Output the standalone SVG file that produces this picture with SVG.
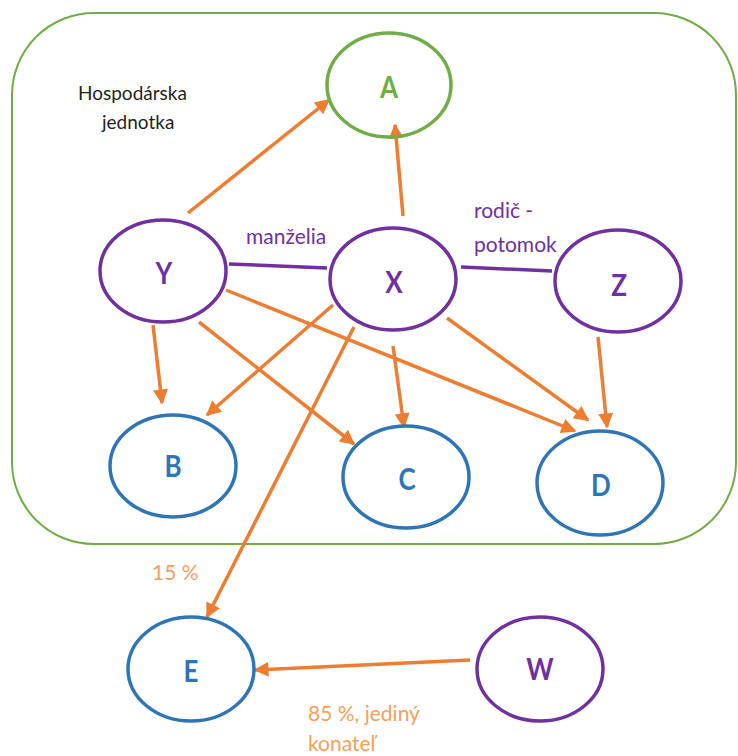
<svg xmlns="http://www.w3.org/2000/svg" width="738" height="756" viewBox="0 0 738 756">
<style>
.node{fill:none;stroke-width:3.5}
.purple{stroke:#7030A0}
.blue{stroke:#2E75B6}
.green{stroke:#70AD47}
.lbl{font-family:Lato,"Open Sans","Liberation Sans",sans-serif;font-weight:bold;font-size:26px;text-anchor:middle}
.txt{font-family:Lato,"Open Sans","Liberation Sans",sans-serif;font-size:21px}
.title{font-family:Lato,"Open Sans","Liberation Sans",sans-serif;font-size:19px;fill:#1f1f1f}
.arr{stroke:#ED7D31;stroke-width:3.5;fill:none;marker-end:url(#ah)}
.rel{stroke:#7030A0;stroke-width:3.5;fill:none}
</style>
<defs>
<marker id="ah" viewBox="0 0 10 10" refX="9" refY="5" markerUnits="userSpaceOnUse" markerWidth="17" markerHeight="15" orient="auto">
<path d="M0,0 L10,5 L0,10 z" fill="#ED7D31"/>
</marker>
</defs>
<rect id="container" x="12" y="13" width="724" height="531" rx="82" ry="82" fill="none" stroke="#70AD47" stroke-width="2"/>
<g id="container-label">
<text class="title" x="78" y="100">Hospodárska</text>
<text class="title" x="102" y="129">jednotka</text>
</g>
<g id="connectors">
<line class="arr" x1="188" y1="213" x2="329" y2="100"/>
<line class="arr" x1="403" y1="216" x2="395" y2="125"/>
<line class="rel" x1="229" y1="264" x2="327" y2="268"/>
<line class="rel" x1="461" y1="267" x2="552" y2="271"/>
<line class="arr" x1="153" y1="325" x2="162" y2="403"/>
<line class="arr" x1="333" y1="305" x2="207" y2="415"/>
<line class="arr" x1="199" y1="322" x2="354" y2="444"/>
<line class="arr" x1="354" y1="327" x2="207" y2="617"/>
<line class="arr" x1="226" y1="290" x2="575" y2="431"/>
<line class="arr" x1="393" y1="346" x2="404" y2="427"/>
<line class="arr" x1="447" y1="318" x2="588" y2="420"/>
<line class="arr" x1="598" y1="337" x2="607" y2="427"/>
<line class="arr" x1="470" y1="660" x2="255" y2="670"/>
<text class="txt" x="246" y="244" fill="#7030A0">manželia</text>
<text class="txt" x="474" y="218" fill="#7030A0">rodič -</text>
<text class="txt" x="474" y="252" fill="#7030A0">potomok</text>
<text class="txt" x="152" y="580" fill="#F7A05A">15 %</text>
<text class="txt" x="308" y="721" fill="#F7A05A">85 %, jediný</text>
<text class="txt" x="308" y="751" fill="#F7A05A">konateľ</text>
</g>
<g id="node-A"><ellipse class="node green" cx="389" cy="85" rx="62" ry="52"/><text class="lbl" fill="#70AD47" transform="translate(389,98) scale(1,1.2)">A</text></g>
<g id="node-Y"><ellipse class="node purple" cx="163" cy="271" rx="63" ry="51"/><text class="lbl" fill="#7030A0" transform="translate(164,284) scale(1,1.2)">Y</text></g>
<g id="node-X"><ellipse class="node purple" cx="393" cy="279" rx="63" ry="51"/><text class="lbl" fill="#7030A0" transform="translate(394,293) scale(1,1.2)">X</text></g>
<g id="node-Z"><ellipse class="node purple" cx="618" cy="281" rx="63" ry="51"/><text class="lbl" fill="#7030A0" transform="translate(619,296) scale(1,1.2)">Z</text></g>
<g id="node-B"><ellipse class="node blue" cx="173" cy="466" rx="63" ry="51"/><text class="lbl" fill="#2E75B6" transform="translate(173,477) scale(1,1.2)">B</text></g>
<g id="node-C"><ellipse class="node blue" cx="406" cy="477" rx="63" ry="51"/><text class="lbl" fill="#2E75B6" transform="translate(407,490) scale(1,1.2)">C</text></g>
<g id="node-D"><ellipse class="node blue" cx="600" cy="483" rx="63" ry="52"/><text class="lbl" fill="#2E75B6" transform="translate(601,496) scale(1,1.2)">D</text></g>
<g id="node-E"><ellipse class="node blue" cx="191" cy="669" rx="63" ry="52"/><text class="lbl" fill="#2E75B6" transform="translate(191,682) scale(1,1.2)">E</text></g>
<g id="node-W"><ellipse class="node purple" cx="540" cy="669" rx="63" ry="52"/><text class="lbl" fill="#7030A0" transform="translate(540,680) scale(1,1.2)">W</text></g>
</svg>
